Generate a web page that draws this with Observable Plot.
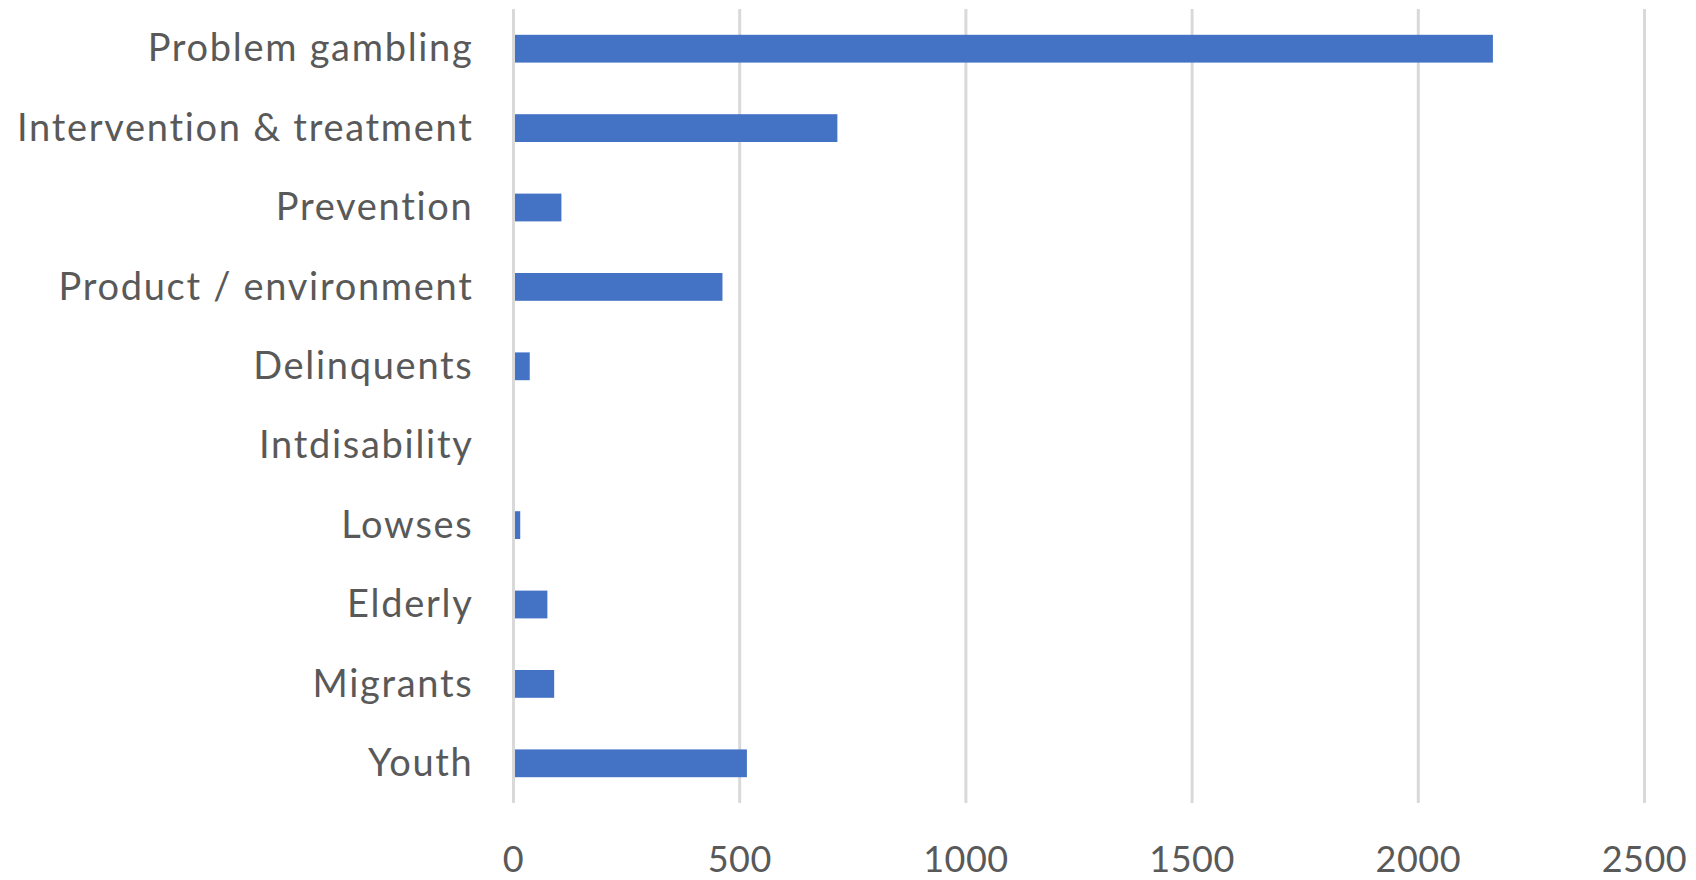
<!DOCTYPE html>
<html>
<head>
<meta charset="utf-8">
<script src="https://cdn.jsdelivr.net/npm/d3@7"></script>
<script src="https://cdn.jsdelivr.net/npm/@observablehq/plot@0.6"></script>
<style>
  html, body { margin: 0; padding: 0; background: #fff; }
  #chart svg { display: block; }
</style>
</head>
<body>
<div id="chart"></div>
<script>
const categories = [
  "Problem gambling",
  "Intervention & treatment",
  "Prevention",
  "Product / environment",
  "Delinquents",
  "Intdisability",
  "Lowses",
  "Elderly",
  "Migrants",
  "Youth"
];
const values = [2166, 717, 107, 463, 37, 0, 16, 76, 91, 517];
const xTicks = [0, 500, 1000, 1500, 2000, 2500];

const data = categories.map((c, i) => ({category: c, value: values[i]}));

const chart = Plot.plot({
  width: 1696,
  height: 880,
  marginLeft: 513,
  marginRight: 52,
  marginTop: 9,
  marginBottom: 77,
  style: {fontFamily: "Lato, 'Open Sans', sans-serif", background: "#fff"},
  x: {domain: [0, 2500], ticks: xTicks},
  y: {domain: categories, paddingInner: 0.65, paddingOuter: 0.325, round: false},
  marks: [
    Plot.ruleX(xTicks, {stroke: "#d9d9d9", strokeWidth: 3}),
    Plot.barX(data, {x: "value", y: "category", fill: "#4472C4", insetLeft: 2}),
    Plot.axisY({tickSize: 0, tickPadding: 40, fontSize: 38, fill: "#595959", label: null}),
    Plot.axisX(xTicks, {tickSize: 0, tickPadding: 43, fontSize: 36, fill: "#595959", label: null, tickFormat: d => String(d)})
  ]
});
d3.select(chart).selectAll('g[aria-label="y-axis tick label"] text').style("letter-spacing", "1.7px");
d3.select(chart).selectAll('g[aria-label="x-axis tick label"] text').style("letter-spacing", "0.5px");
document.getElementById("chart").appendChild(chart);
</script>
</body>
</html>
